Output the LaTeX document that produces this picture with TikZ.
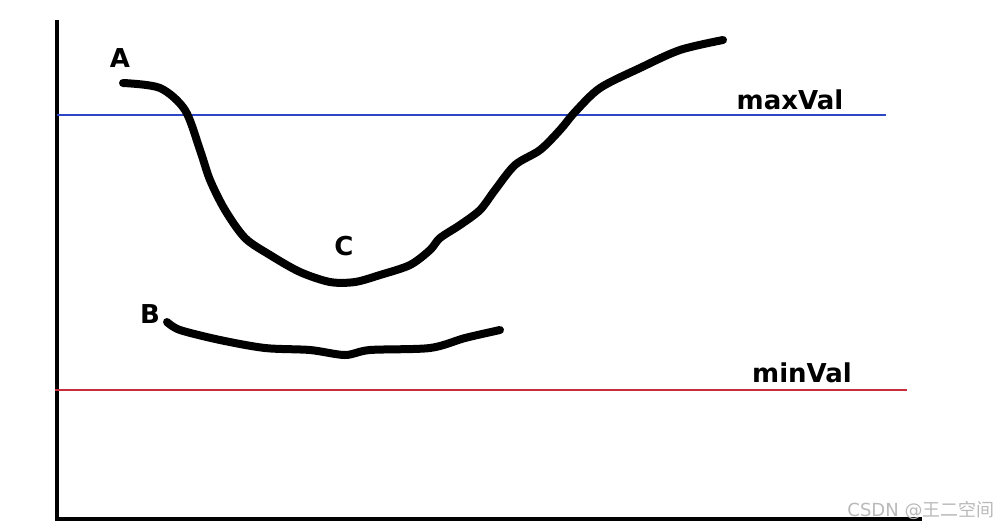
\documentclass[tikz,border=0pt]{standalone}
\usepackage{fontspec}
\setmainfont{DejaVu Sans}
\newfontfamily\cjkfont{Noto Sans CJK SC}
\usepackage{tikz}
\usepackage{xcolor}
\definecolor{maxblue}{RGB}{45,70,200}
\definecolor{minred}{RGB}{200,45,60}

\begin{document}
\begin{tikzpicture}[x=1pt,y=-1pt,
  pen/.style={line width=8pt,line cap=round,line join=round},
  lbl/.style={inner sep=0pt,font=\bfseries\fontsize{26}{26}\selectfont}]
\useasboundingbox (0,0) rectangle (998,528);
\draw[line width=3.5pt] (57,20)--(57,519)--(922,519);
\draw[maxblue,line width=2.5pt] (57,115)--(886,115);
\draw[minred,line width=2.5pt] (55,390)--(907,390);
\draw[pen] plot[smooth,tension=0.5] coordinates {(123,83) (160,88) (185,110) (200,150) (210,180) (225,210) (245,238) (270,255) (300,272) (330,282) (355,282) (380,275) (410,265) (430,250) (440,238) (460,225) (480,210) (495,190) (515,165) (540,150) (560,130) (575,112) (600,88) (640,68) (680,50) (723,40)};
\draw[pen] plot[smooth,tension=0.5] coordinates {(167,322) (180,330) (220,340) (265,348) (310,350) (345,355) (370,350) (430,348) (465,338) (500,330)};
\node[lbl] (ptA) at (120,58) {A};
\node[lbl] (ptC) at (344,246) {C};
\node[lbl] (ptB) at (150,314) {B};
\node[lbl] (maxval) at (790,100) {maxVal};
\node[lbl] (minval) at (802,373) {minVal};
\node[inner sep=0pt,text=gray!55,font=\fontsize{18}{18}\selectfont] (mark) at (921,510) {CSDN @{\cjkfont 王二空间}};
\end{tikzpicture}
\end{document}
